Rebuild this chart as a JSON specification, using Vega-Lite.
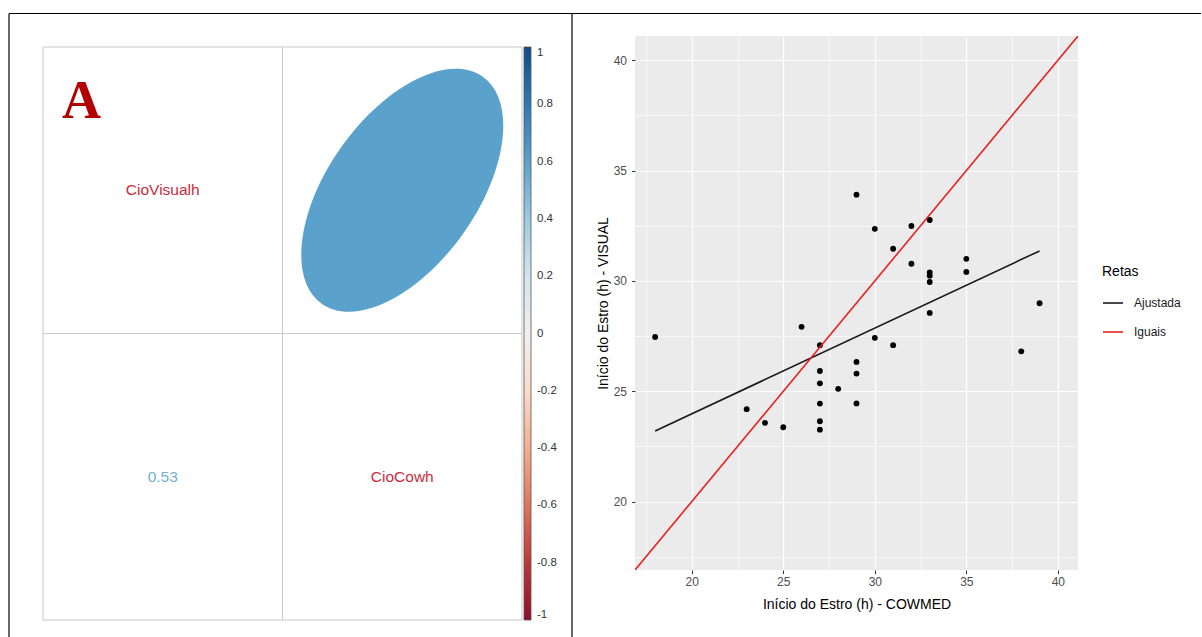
{
  "$schema": "https://vega.github.io/schema/vega-lite/v6.json",
  "padding": {"left": 8, "top": 12, "right": 0, "bottom": 0},
  "background": "white",
  "config": {"font": "Liberation Sans", "view": {"stroke": null}},
  "bounds": "flush",
  "spacing": 63,
  "resolve": {"scale": {"color": "independent"}, "legend": {"color": "independent"}},
  "hconcat": [
    {
      "width": 564,
      "height": 625,
      "layer": [
        {
          "data": {"values": [
            {"row": "CioVisualh", "col": "CioVisualh", "part": "diag", "r": 1},
            {"row": "CioVisualh", "col": "CioCowh", "part": "upper", "r": 0.53},
            {"row": "CioCowh", "col": "CioVisualh", "part": "lower", "r": 0.53},
            {"row": "CioCowh", "col": "CioCowh", "part": "diag", "r": 1}
          ]},
          "encoding": {
            "x": {"field": "col", "type": "nominal", "axis": null,
                  "scale": {"type": "band", "domain": ["CioVisualh", "CioCowh"], "paddingInner": 0, "paddingOuter": 0.177453, "align": 0.41176}},
            "y": {"field": "row", "type": "nominal", "axis": null,
                  "scale": {"type": "band", "domain": ["CioVisualh", "CioCowh"], "paddingInner": 0, "paddingOuter": 0.09075, "align": 0.673077}}
          },
          "layer": [
            {"mark": {"type": "rect", "fill": "white", "stroke": "#c8c8c8", "strokeWidth": 1}},
            {
              "transform": [{"filter": "datum.part === 'diag'"}],
              "mark": {"type": "text", "color": "#cd2b3b", "fontSize": 15.5, "font": "Liberation Sans"},
              "encoding": {"text": {"field": "col"}}
            },
            {
              "transform": [{"filter": "datum.part === 'lower'"}],
              "mark": {"type": "text", "fontSize": 15.5, "font": "Liberation Sans"},
              "encoding": {
                "text": {"field": "r", "format": ".2f"},
                "color": {"field": "r", "type": "quantitative",
                          "scale": {"domain": [-1, 1], "scheme": "redblue"},
                          "legend": {"orient": "none", "legendX": 516, "legendY": 35, "direction": "vertical",
                                     "gradientLength": 573, "gradientThickness": 7,
                                     "gradientStrokeColor": "#555555", "gradientStrokeWidth": 0.8,
                                     "title": null, "padding": 0,
                                     "values": [1, 0.8, 0.6, 0.4, 0.2, 0, -0.2, -0.4, -0.6, -0.8, -1],
                                     "labelExpr": "replace(format(datum.value, '~g'), '\u2212', '-')",
                                     "labelFontSize": 11.5, "labelColor": "#333333", "labelOffset": 6,
                                     "labelBaseline": "middle", "labelOverlap": false, "labelFont": "Liberation Sans"}}
              }
            },
            {
              "transform": [{"filter": "datum.part === 'upper'"}],
              "mark": {"type": "point", "filled": true, "opacity": 1, "strokeWidth": 0, "size": 59049, "color": "#5aa1cb",
                       "shape": "M0.6627,-0.9344 A1.1455,0.6153,-54.66,0,1,-0.6627,0.9344 A1.1455,0.6153,-54.66,0,1,0.6627,-0.9344 Z"}
            }
          ]
        },
        {
          "data": {"values": [{}]},
          "encoding": {},
          "layer": [
            {
              "mark": {"type": "rule", "color": "black", "strokeWidth": 1.2},
              "encoding": {
                "x": {"datum": -0.14196, "type": "quantitative", "axis": null, "scale": {"domain": [-0.14614, 2.20877], "nice": false, "zero": false}},
                "x2": {"datum": 4.835},
                "y": {"datum": 2.11693, "type": "quantitative", "axis": null, "scale": {"domain": [-0.05934, 2.12216], "nice": false, "zero": false}}
              }
            },
            {
              "mark": {"type": "rule", "color": "black", "strokeWidth": 1.2},
              "encoding": {
                "x": {"datum": -0.14196, "type": "quantitative"},
                "y": {"datum": -0.05934, "type": "quantitative"},
                "y2": {"datum": 2.11693}
              }
            },
            {
              "mark": {"type": "rule", "color": "black", "strokeWidth": 1.2},
              "encoding": {
                "x": {"datum": 2.20877, "type": "quantitative"},
                "y": {"datum": -0.05934, "type": "quantitative"},
                "y2": {"datum": 2.11693}
              }
            },
            {
              "mark": {"type": "text", "text": "A", "font": "Liberation Serif", "fontWeight": "bold", "fontSize": 54, "color": "#b30000", "align": "left", "baseline": "alphabetic"},
              "encoding": {
                "x": {"datum": 0.0793, "type": "quantitative"},
                "y": {"datum": 1.7522, "type": "quantitative"}
              }
            }
          ]
        }
      ],
      "resolve": {"scale": {"x": "independent", "y": "independent"}}
    },
    {
      "bounds": "flush",
      "spacing": 20,
      "resolve": {"scale": {"color": "independent"}, "legend": {"color": "independent"}},
      "vconcat": [
        {
          "width": 443,
          "height": 4,
          "data": {"values": []},
          "mark": {"type": "text"},
          "encoding": {"text": {"value": ""}}
        },
        {
          "width": 443,
          "height": 534,
          "view": {"fill": "#EBEBEB", "stroke": null},
          "encoding": {
            "x": {"field": "COWMED", "type": "quantitative",
                  "scale": {"domain": [16.9, 41.1], "nice": false, "zero": false},
                  "axis": {"title": "Início do Estro (h) - COWMED",
                           "values": [17.5, 20, 22.5, 25, 27.5, 30, 32.5, 35, 37.5, 40],
                           "labelExpr": "datum.value % 5 === 0 ? format(datum.value, 'd') : ''",
                           "grid": true, "gridColor": "white",
                           "gridWidth": {"condition": {"test": "datum.value % 5 === 0", "value": 1.2}, "value": 0.6},
                           "tickColor": {"condition": {"test": "datum.value % 5 === 0", "value": "#333333"}, "value": "transparent"},
                           "tickSize": 3.5, "domain": false, "labelOverlap": false, "labelFlush": false,
                           "labelColor": "#4d4d4d", "labelFontSize": 12, "labelPadding": 3,
                           "titleFontSize": 14, "titleFontWeight": "normal", "titleColor": "black", "titlePadding": 10}},
            "y": {"field": "VISUAL", "type": "quantitative",
                  "scale": {"domain": [16.9, 41.1], "nice": false, "zero": false},
                  "axis": {"title": "Início do Estro (h) - VISUAL",
                           "values": [17.5, 20, 22.5, 25, 27.5, 30, 32.5, 35, 37.5, 40],
                           "labelExpr": "datum.value % 5 === 0 ? format(datum.value, 'd') : ''",
                           "grid": true, "gridColor": "white",
                           "gridWidth": {"condition": {"test": "datum.value % 5 === 0", "value": 1.2}, "value": 0.6},
                           "tickColor": {"condition": {"test": "datum.value % 5 === 0", "value": "#333333"}, "value": "transparent"},
                           "tickSize": 3.5, "domain": false, "labelOverlap": false, "labelFlush": false,
                           "labelColor": "#4d4d4d", "labelFontSize": 12, "labelPadding": 5,
                           "titleFontSize": 14, "titleFontWeight": "normal", "titleColor": "black", "titlePadding": 3}}
          },
          "layer": [
            {
              "data": {"values": [
                {"COWMED": 18, "VISUAL": 27.46}, {"COWMED": 23, "VISUAL": 24.19}, {"COWMED": 24, "VISUAL": 23.57},
                {"COWMED": 25, "VISUAL": 23.37}, {"COWMED": 26, "VISUAL": 27.92}, {"COWMED": 27, "VISUAL": 27.09},
                {"COWMED": 27, "VISUAL": 25.92}, {"COWMED": 27, "VISUAL": 25.36}, {"COWMED": 27, "VISUAL": 24.44},
                {"COWMED": 27, "VISUAL": 23.64}, {"COWMED": 27, "VISUAL": 23.26}, {"COWMED": 28, "VISUAL": 25.11},
                {"COWMED": 29, "VISUAL": 33.91}, {"COWMED": 29, "VISUAL": 26.33}, {"COWMED": 29, "VISUAL": 25.8},
                {"COWMED": 29, "VISUAL": 24.45}, {"COWMED": 30, "VISUAL": 32.36}, {"COWMED": 30, "VISUAL": 27.42},
                {"COWMED": 31, "VISUAL": 31.46}, {"COWMED": 31, "VISUAL": 27.09}, {"COWMED": 32, "VISUAL": 32.49},
                {"COWMED": 32, "VISUAL": 30.78}, {"COWMED": 33, "VISUAL": 32.76}, {"COWMED": 33, "VISUAL": 30.39},
                {"COWMED": 33, "VISUAL": 30.24}, {"COWMED": 33, "VISUAL": 29.95}, {"COWMED": 33, "VISUAL": 28.55},
                {"COWMED": 35, "VISUAL": 31.0}, {"COWMED": 35, "VISUAL": 30.41}, {"COWMED": 38, "VISUAL": 26.81},
                {"COWMED": 39, "VISUAL": 28.99}
              ]},
              "mark": {"type": "circle", "size": 34, "color": "black", "opacity": 1}
            },
            {
              "data": {"values": [
                {"Retas": "Ajustada", "COWMED": 18, "VISUAL": 23.2},
                {"Retas": "Ajustada", "COWMED": 39, "VISUAL": 31.36},
                {"Retas": "Iguais", "COWMED": 16.9, "VISUAL": 16.9},
                {"Retas": "Iguais", "COWMED": 41.1, "VISUAL": 41.1}
              ]},
              "mark": {"type": "line", "strokeWidth": 1.6, "clip": true},
              "encoding": {
                "color": {"field": "Retas", "type": "nominal",
                          "scale": {"domain": ["Ajustada", "Iguais"], "range": ["#1a1a1a", "#e8201f"]},
                          "legend": {"orient": "none", "legendX": 467, "legendY": 229, "title": "Retas",
                                     "titleFontSize": 14, "titleFontWeight": "normal", "titleColor": "black", "titlePadding": 13,
                                     "symbolType": "stroke", "symbolSize": 400, "symbolStrokeWidth": 1.6,
                                     "labelFontSize": 12, "labelColor": "#1a1a1a", "labelOffset": 10, "rowPadding": 12, "padding": 0}}
              }
            },
            {
              "data": {"values": [{}]},
              "mark": {"type": "text", "text": "B", "font": "Liberation Serif", "fontWeight": "bold", "fontSize": 54, "color": "#b30000", "align": "left", "baseline": "alphabetic"},
              "encoding": {
                "x": {"datum": 18.0, "type": "quantitative"},
                "y": {"datum": 37.39, "type": "quantitative"}
              }
            }
          ]
        }
      ]
    }
  ]
}
